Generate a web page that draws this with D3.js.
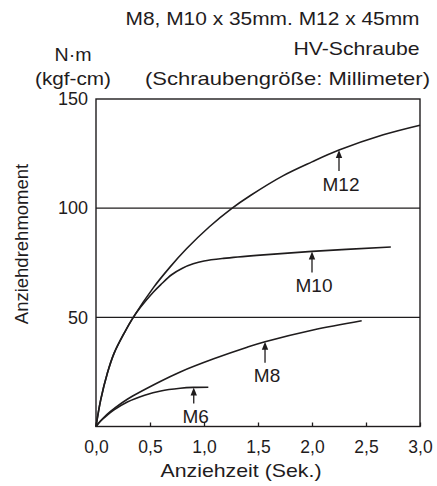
<!DOCTYPE html>
<html>
<head>
<meta charset="utf-8">
<script src="https://cdn.jsdelivr.net/npm/d3@7"></script>
<style>
  html, body { margin: 0; padding: 0; background: #fff; }
  svg { display: block; font-family: "Liberation Sans", Arial, Helvetica, sans-serif; }
</style>
</head>
<body>
<svg id="chart" width="437" height="486"></svg>
<script>
// ---- data ----
const xTickValues = [0, 0.5, 1.0, 1.5, 2.0, 2.5, 3.0];
const yTickValues = [50, 100, 150];
const gridValues = [50, 100];

const titleLines = ["M8, M10 x 35mm. M12 x 45mm", "HV-Schraube", "(Schraubengröße: Millimeter)"];
const unitLines = ["N·m", "(kgf-cm)"];
const xTitle = "Anziehzeit (Sek.)";
const yTitle = "Anziehdrehmoment";

const seriesNames = ["M6", "M8", "M10", "M12"];

const m6Time   = [0, 0.04, 0.1, 0.167, 0.29, 0.45, 0.6, 0.78, 0.9, 1.04];
const m6Torque = [0, 2.4, 5.0, 7.6, 11.2, 14.3, 16.3, 17.5, 17.9, 18.0];

const m8Time   = [0, 0.04, 0.1, 0.167, 0.29, 0.59, 0.78, 1.09, 1.4, 1.565, 2.01, 2.46];
const m8Torque = [0, 2.4, 5.5, 8.2, 12.5, 20.5, 25.0, 31.0, 36.3, 38.8, 44.2, 48.4];

const m10Time   = [0, 0.043, 0.105, 0.167, 0.26, 0.345, 0.41, 0.53, 0.6, 0.7, 0.8, 0.9, 1.0, 1.18, 1.52, 2.0, 2.73];
const m10Torque = [0, 12.1, 24.4, 33.5, 42.7, 50.0, 54.5, 61.5, 65.0, 69.5, 72.5, 74.5, 75.8, 77.0, 78.5, 80.2, 82.2];

const m12Time   = [0, 0.043, 0.105, 0.167, 0.26, 0.345, 0.53, 0.685, 0.84, 1.05, 1.255, 1.43, 1.73, 2.0, 2.25, 2.66, 3.0];
const m12Torque = [0, 12.1, 24.4, 33.5, 42.7, 50.0, 63.5, 73.0, 81.5, 91.5, 99.8, 105.8, 114.8, 121.2, 126.6, 133.6, 138.0];

const labelNames = ["M6", "M8", "M10", "M12"];
const labelTimes = [0.905, 1.565, 2.0, 2.25];

// ---- build ----
const svg = d3.select("#chart");
const ink = "#1f1c1d";

const x = d3.scaleLinear().domain([0, 3]).range([96, 420]);
const y = d3.scaleLinear().domain([0, 150]).range([426.5, 99]);

const seriesTable = {
  "M6":  m6Time.map((t, i) => [t, m6Torque[i]]),
  "M8":  m8Time.map((t, i) => [t, m8Torque[i]]),
  "M10": m10Time.map((t, i) => [t, m10Torque[i]]),
  "M12": m12Time.map((t, i) => [t, m12Torque[i]])
};

// gridlines
svg.append("g").selectAll("line").data(gridValues).join("line")
  .attr("x1", x(0)).attr("x2", x(3))
  .attr("y1", d => y(d)).attr("y2", d => y(d))
  .attr("stroke", ink).attr("stroke-width", 1.3);

// x axis (inside ticks)
const xAxis = d3.axisBottom(x)
  .tickValues(xTickValues)
  .tickSizeInner(-4).tickSizeOuter(0).tickPadding(14)
  .tickFormat(d => d3.format(".1f")(d).replace(".", ","));
const gx = svg.append("g").attr("transform", `translate(0,${y(0)})`).call(xAxis);
gx.select(".domain").remove();
gx.selectAll(".tick line").attr("stroke", ink).attr("stroke-width", 1.3);
gx.selectAll(".tick text").attr("font-size", 17.5).attr("fill", ink).attr("font-family", null);

// y axis
const yAxis = d3.axisLeft(y).tickValues(yTickValues).tickSize(0).tickPadding(8);
const gy = svg.append("g").attr("transform", `translate(${x(0)},0)`).call(yAxis);
gy.select(".domain").remove();
gy.selectAll(".tick text").attr("font-size", 18).attr("fill", ink).attr("font-family", null);

// frame
svg.append("rect")
  .attr("x", x(0)).attr("y", y(150))
  .attr("width", x(3) - x(0)).attr("height", y(0) - y(150))
  .attr("fill", "none").attr("stroke", ink).attr("stroke-width", 1.4);

// curves
const line = d3.line().x(d => x(d[0])).y(d => y(d[1])).curve(d3.curveCatmullRom.alpha(0.5));
svg.append("g").selectAll("path").data(seriesNames).join("path")
  .attr("d", n => line(seriesTable[n]))
  .attr("fill", "none").attr("stroke", ink).attr("stroke-width", 1.6);

// labels with arrows
function valueAt(pts, t) {
  const i = d3.bisector(d => d[0]).left(pts, t);
  if (i <= 0) return pts[0][1];
  if (i >= pts.length) return pts[pts.length - 1][1];
  const a = pts[i - 1], b = pts[i];
  return a[1] + (b[1] - a[1]) * (t - a[0]) / (b[0] - a[0]);
}
const lab = svg.append("g");
labelNames.forEach((n, i) => {
  const t = labelTimes[i];
  const px = x(t);
  const py = y(valueAt(seriesTable[n], t));
  const len = n === "M6" ? 16 : 21;
  lab.append("line").attr("x1", px).attr("x2", px)
    .attr("y1", py + 6).attr("y2", py + len)
    .attr("stroke", ink).attr("stroke-width", 1.3);
  lab.append("path")
    .attr("d", `M${px},${py} L${px - 3.2},${py + 8} L${px + 3.2},${py + 8} Z`)
    .attr("fill", ink);
  lab.append("text").attr("x", px + 2).attr("y", py + len + 19.5)
    .attr("text-anchor", "middle").attr("font-size", 19).attr("fill", ink)
    .text(n);
});

// titles
const titleBaselines = [25, 55, 85];
const titleRight = [419.5, 419.5, 430];
const titleWidths = [294, 126, 285];
titleLines.forEach((s, i) => {
  svg.append("text")
    .attr("x", titleRight[i] - titleWidths[i]).attr("y", titleBaselines[i])
    .attr("font-size", 19).attr("fill", ink)
    .attr("textLength", titleWidths[i]).attr("lengthAdjust", "spacingAndGlyphs")
    .text(s);
});

// units
const unitBaselines = [61, 85];
const unitWidths = [37, 76];
unitLines.forEach((s, i) => {
  svg.append("text")
    .attr("x", 73 - unitWidths[i] / 2).attr("y", unitBaselines[i])
    .attr("font-size", 19).attr("fill", ink)
    .attr("textLength", unitWidths[i]).attr("lengthAdjust", "spacingAndGlyphs")
    .text(s);
});

// axis titles
svg.append("text")
  .attr("x", 241 - 80.5).attr("y", 477)
  .attr("font-size", 19).attr("fill", ink)
  .attr("textLength", 161).attr("lengthAdjust", "spacingAndGlyphs")
  .text(xTitle);

svg.append("text")
  .attr("transform", "translate(28,244) rotate(-90)")
  .attr("text-anchor", "middle")
  .attr("font-size", 18.5).attr("fill", ink)
  .text(yTitle);
</script>
</body>
</html>
